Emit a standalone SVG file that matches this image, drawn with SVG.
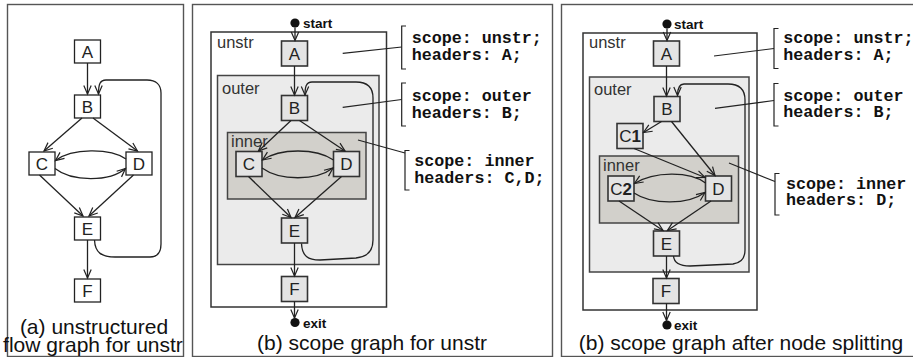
<svg xmlns="http://www.w3.org/2000/svg" width="913" height="357" viewBox="0 0 913 357">
<defs>
<marker id="arr" markerUnits="userSpaceOnUse" markerWidth="12" markerHeight="10" refX="9" refY="4.5" orient="auto" overflow="visible">
<path d="M0.5,0.8 L9,4.5 L0.5,8.2" fill="none" stroke="#222" stroke-width="1.2"/>
</marker>
</defs>
<style>
.frame{fill:#fff;stroke:#555;stroke-width:1.4}
.n1{fill:#fff;stroke:#222;stroke-width:1.3}
.n{fill:#e4e4e4;stroke:#333;stroke-width:1.6}
.unstr{fill:#fff;stroke:#333;stroke-width:1.5}
.outer{fill:#ebebeb;stroke:#444;stroke-width:1.5}
.inner{fill:#d2d0cb;stroke:#444;stroke-width:1.5}
.lbl{font-family:"Liberation Sans",Arial,sans-serif;font-size:17px;fill:#222;text-anchor:middle}
.scope{font-family:"Liberation Sans",Arial,sans-serif;font-size:16.5px;fill:#333}
.term{font-family:"Liberation Sans",Arial,sans-serif;font-size:13.5px;font-weight:bold;fill:#111}
.cap{font-family:"Liberation Sans",Arial,sans-serif;font-size:21px;fill:#111;text-anchor:middle}
.code{font-family:"Liberation Mono","Courier New",monospace;font-size:16.7px;font-weight:bold;fill:#111}
.e{fill:none;stroke:#222;stroke-width:1.3;marker-end:url(#arr)}
.l{fill:none;stroke:#222;stroke-width:1.2}
.dot{fill:#111}
</style>

<!-- panel frames -->
<g id="frames">
<rect class="frame" x="7.5" y="4.5" width="176" height="352"/>
<rect class="frame" x="192.5" y="4.5" width="360" height="352"/>
<rect class="frame" x="561.5" y="4.5" width="360" height="352"/>
</g>

<!-- Panel (a) -->
<g id="a-A"><rect class="n1" x="74.5" y="40" width="26" height="23"/><text class="lbl" x="87.5" y="57.5">A</text></g>
<g id="a-B"><rect class="n1" x="74.5" y="95" width="26" height="23"/><text class="lbl" x="87.5" y="112.5">B</text></g>
<g id="a-C"><rect class="n1" x="29" y="152" width="26" height="23"/><text class="lbl" x="42" y="169.5">C</text></g>
<g id="a-D"><rect class="n1" x="126" y="152" width="26" height="23"/><text class="lbl" x="139" y="169.5">D</text></g>
<g id="a-E"><rect class="n1" x="74.5" y="217" width="26" height="23"/><text class="lbl" x="87.5" y="234.5">E</text></g>
<g id="a-F"><rect class="n1" x="74.5" y="279" width="26" height="23"/><text class="lbl" x="87.5" y="296.5">F</text></g>

<!-- Panel (b) containers -->
<g id="b-unstr"><rect class="unstr" x="211" y="32" width="175.5" height="275"/><text class="scope" x="217" y="48">unstr</text></g>
<g id="b-outer"><rect class="outer" x="217.5" y="75.5" width="161.5" height="189"/><text class="scope" x="222" y="94">outer</text></g>
<g id="b-inner"><rect class="inner" x="227.5" y="132.5" width="138.5" height="66.5"/><text class="scope" x="231" y="147">inner</text></g>
<g id="b-start"><circle class="dot" cx="295" cy="23" r="4.6"/><text class="term" x="303" y="28">start</text></g>
<g id="b-exit"><circle class="dot" cx="295" cy="322.5" r="4.6"/><text class="term" x="303" y="327.5">exit</text></g>
<g id="b-A"><rect class="n" x="281.5" y="41" width="26" height="25"/><text class="lbl" x="294.5" y="59.5">A</text></g>
<g id="b-B"><rect class="n" x="281.5" y="95.5" width="26" height="25"/><text class="lbl" x="294.5" y="114">B</text></g>
<g id="b-C"><rect class="n" x="236" y="151.5" width="26" height="25"/><text class="lbl" x="249" y="170">C</text></g>
<g id="b-D"><rect class="n" x="333.5" y="151.5" width="26" height="25"/><text class="lbl" x="346.5" y="170">D</text></g>
<g id="b-E"><rect class="n" x="281.5" y="218" width="26" height="25"/><text class="lbl" x="294.5" y="236.5">E</text></g>
<g id="b-F"><rect class="n" x="281.5" y="276.5" width="26" height="25"/><text class="lbl" x="294.5" y="295">F</text></g>

<!-- Panel (c) containers -->
<g id="c-unstr"><rect class="unstr" x="583" y="33" width="174" height="277"/><text class="scope" x="589" y="48">unstr</text></g>
<g id="c-outer"><rect class="outer" x="589.5" y="77" width="159.5" height="195"/><text class="scope" x="594" y="95">outer</text></g>
<g id="c-inner"><rect class="inner" x="599.5" y="156" width="139" height="67"/><text class="scope" x="603" y="171">inner</text></g>
<g id="c-start"><circle class="dot" cx="667" cy="24" r="4.6"/><text class="term" x="674" y="29">start</text></g>
<g id="c-exit"><circle class="dot" cx="667" cy="325" r="4.6"/><text class="term" x="674" y="330">exit</text></g>
<g id="c-A"><rect class="n" x="653.5" y="41" width="26" height="25"/><text class="lbl" x="666.5" y="59.5">A</text></g>
<g id="c-B"><rect class="n" x="654" y="96.5" width="26" height="25"/><text class="lbl" x="667" y="115">B</text></g>
<g id="c-C1"><rect class="n" x="617" y="123.5" width="26" height="25"/><text class="lbl" x="630" y="142">C<tspan font-weight="bold">1</tspan></text></g>
<g id="c-C2"><rect class="n" x="608" y="176" width="26" height="25"/><text class="lbl" x="621" y="194.5">C<tspan font-weight="bold">2</tspan></text></g>
<g id="c-D"><rect class="n" x="705.5" y="176" width="26" height="25"/><text class="lbl" x="718.5" y="194.5">D</text></g>
<g id="c-E"><rect class="n" x="653.5" y="231" width="26" height="25"/><text class="lbl" x="666.5" y="249.5">E</text></g>
<g id="c-F"><rect class="n" x="653" y="278.5" width="26" height="25"/><text class="lbl" x="666" y="297">F</text></g>

<!-- connectors -->
<g id="connectors">
<!-- panel a -->
<path class="e" d="M87.5,63 L87.5,94"/>
<path class="e" d="M82,118 L44,151"/>
<path class="e" d="M93,118 L137.5,151"/>
<path class="e" d="M126,159 C110,148 72,148 55.5,160.5"/>
<path class="e" d="M55,168.5 C72,182 110,182 125.5,168.5"/>
<path class="e" d="M39.5,175 L83,216"/>
<path class="e" d="M133.5,175 L89,216"/>
<path class="e" d="M87.5,240 L87.5,278"/>
<path class="e" d="M94.5,240 C95,253 102,257 115,257 L150,257 C157,257 161,253 161,244 L161,93 C161,85 156,80 147,80 L106,80 C100,80 98.5,84 98.5,94"/>
<!-- panel b -->
<path class="e" d="M295,27.5 L295,40.5"/>
<path class="e" d="M294.5,66 L294.5,95"/>
<path class="e" d="M291,120.5 L258.5,151"/>
<path class="e" d="M299.5,120.5 L345,151"/>
<path class="e" d="M333.5,160 C316,148 280,148 262.5,160"/>
<path class="e" d="M262,168 C280,181 316,181 333,168"/>
<path class="e" d="M248.5,176.5 L291,217.5"/>
<path class="e" d="M341.5,176.5 L295,217.5"/>
<path class="e" d="M294.5,243 L294.5,276"/>
<path class="e" d="M294.5,301.5 L294.5,318"/>
<path class="e" d="M301.5,243.5 C302,256 308,260 320,260 L356,258 C367,257 373,252 373,240 L373,98 C373,87 367,82 356,82 L312,82 C306,82 305,87 305,95"/>
<!-- panel c -->
<path class="e" d="M667,28.5 L667,40.5"/>
<path class="e" d="M666.5,66 L666.5,96"/>
<path class="e" d="M661.5,121.5 L643.5,132.5"/>
<path class="e" d="M671.5,121.5 L715,175.5"/>
<path class="e" d="M634,148.5 L705,177.5"/>
<path class="e" d="M705.5,183 C690,171 654,171 634.5,183.5"/>
<path class="e" d="M634,193 C652,205 688,205 705,192.5"/>
<path class="e" d="M619,201 L663,230.5"/>
<path class="e" d="M711,201 L667.5,230.5"/>
<path class="e" d="M666.5,256 L666.5,278"/>
<path class="e" d="M666.5,303.5 L666.5,320.5"/>
<path class="e" d="M673.5,256 C674,263 679,266 690,266 L733,264 C741,263 745,258 745,250 L745,100 C745,90 740,84 728,84 L684,84 C679,84 677.5,88 677.5,95.5"/>
</g>

<!-- annotations panel b -->
<g id="b-notes">
<path class="l" d="M342.7,53.3 L401.7,47"/>
<path class="l" d="M406,26 L401.7,26 L401.7,69 L406,69"/>
<text class="code" x="411.7" y="43">scope: unstr;</text>
<text class="code" x="411.7" y="59.5">headers: A;</text>
<path class="l" d="M342.7,107.3 L401.7,99.5"/>
<path class="l" d="M406,83 L401.7,83 L401.7,126 L406,126"/>
<text class="code" x="411.7" y="101">scope: outer</text>
<text class="code" x="411.7" y="117.5">headers: B;</text>
<path class="l" d="M358,140 L405,153"/>
<path class="l" d="M409.5,150.5 L405,150.5 L405,190 L409.5,190"/>
<text class="code" x="414.3" y="166">scope: inner</text>
<text class="code" x="414.3" y="182.5">headers: C,D;</text>
</g>

<!-- annotations panel c -->
<g id="c-notes">
<path class="l" d="M714,56 L774,48.5"/>
<path class="l" d="M778.5,28.5 L774,28.5 L774,68.5 L778.5,68.5"/>
<text class="code" x="783.3" y="43">scope: unstr;</text>
<text class="code" x="783.3" y="59.5">headers: A;</text>
<path class="l" d="M715,108.3 L774,100.5"/>
<path class="l" d="M778.5,83.5 L774,83.5 L774,126 L778.5,126"/>
<text class="code" x="783.3" y="100.5">scope: outer</text>
<text class="code" x="783.3" y="117">headers: B;</text>
<path class="l" d="M729,163 L775,181.5"/>
<path class="l" d="M779.5,173.5 L775,173.5 L775,215 L779.5,215"/>
<text class="code" x="786" y="188.5">scope: inner</text>
<text class="code" x="786" y="205">headers: D;</text>
</g>

<!-- captions -->
<g id="captions">
<text class="cap" x="94" y="334">(a) unstructured</text>
<text class="cap" x="93" y="352">flow graph for unstr</text>
<text class="cap" x="372" y="350">(b) scope graph for unstr</text>
<text class="cap" x="741" y="350">(b) scope graph after node splitting</text>
</g>
</svg>
